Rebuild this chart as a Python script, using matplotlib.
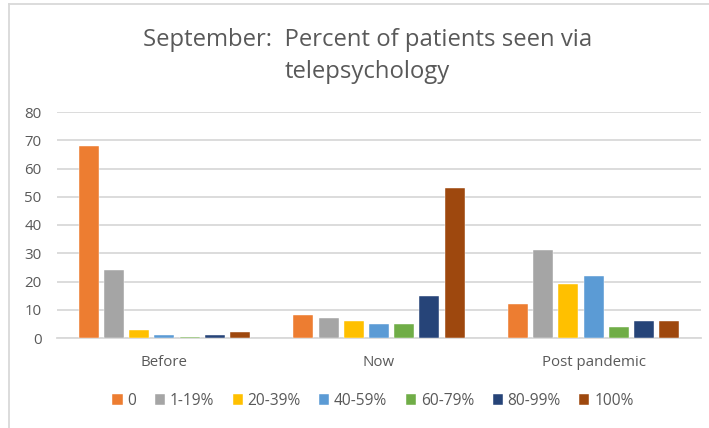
import matplotlib
matplotlib.use("Agg")
import matplotlib.pyplot as plt
import numpy as np
from matplotlib.lines import Line2D

categories = ["Before", "Now", "Post pandemic"]
series_names = ["0", "1-19%", "20-39%", "40-59%", "60-79%", "80-99%", "100%"]
v_0 = [68, 8, 12]
v_1_19 = [24, 7, 31]
v_20_39 = [3, 6, 19]
v_40_59 = [1, 5, 22]
v_60_79 = [0.5, 5, 4]
v_80_99 = [1, 15, 6]
v_100 = [2, 53, 6]
series_values = [v_0, v_1_19, v_20_39, v_40_59, v_60_79, v_80_99, v_100]
colors = ["#ED7D31", "#A5A5A5", "#FFC000", "#5B9BD5", "#70AD47", "#264478", "#9E480E"]
yticks = [0, 10, 20, 30, 40, 50, 60, 70, 80]

font = "Open Sans"
txt = "#595959"
grid = "#D9D9D9"

fig = plt.figure(figsize=(7.09, 4.28), dpi=100)
ax = fig.add_axes([57/709, 1-338/428, (701-57)/709, (338-112)/428])

x = np.arange(len(categories))
pitch = 0.1175
width = 0.093
n = len(series_values)
for i, (vals, c, name) in enumerate(zip(series_values, colors, series_names)):
    ax.bar(x + (i - (n-1)/2)*pitch, vals, width=width, color=c, label=name,
           edgecolor="white", linewidth=0.3, zorder=3)

ax.set_xlim(-0.5, 2.5)
ax.set_ylim(0, 80)
ax.set_yticks(yticks)
ax.set_yticklabels([str(t) for t in yticks], fontfamily=font, fontsize=10.8, color=txt)
ax.set_xticks(x)
ax.set_xticklabels(categories, fontfamily=font, fontsize=10.8, color=txt)
ax.tick_params(axis="both", length=0)
ax.tick_params(axis="y", pad=11)
ax.tick_params(axis="x", pad=12)
ax.yaxis.grid(True, color=grid, linewidth=1.3, zorder=0)
ax.set_axisbelow(True)
for s in ["top", "right", "left"]:
    ax.spines[s].set_visible(False)
ax.spines["bottom"].set_color(grid)
ax.spines["bottom"].set_linewidth(1.3)

fig.text(368/709, 1-40/428, "September:  Percent of patients seen via", ha="center", va="center",
         fontfamily=font, fontsize=17.2, color=txt)
fig.text(367/709, 1-72/428, "telepsychology", ha="center", va="center",
         fontfamily=font, fontsize=17.2, color=txt)

leg = fig.legend(loc="center", bbox_to_anchor=(373/709, 1-401/428), ncol=7, frameon=False,
                 prop={"family": font, "size": 11.2}, handlelength=0.65, handleheight=0.65,
                 handletextpad=0.3, columnspacing=1.2)
for t in leg.get_texts():
    t.set_color(txt)

# chart border (top and left visible)
fig.add_artist(Line2D([9/709, 9/709], [0, 1-4/428], color="#D9D9D9", linewidth=1.3))
fig.add_artist(Line2D([9/709, 1], [1-4/428, 1-4/428], color="#D9D9D9", linewidth=1.3))

fig.savefig("out.png", dpi=100)
